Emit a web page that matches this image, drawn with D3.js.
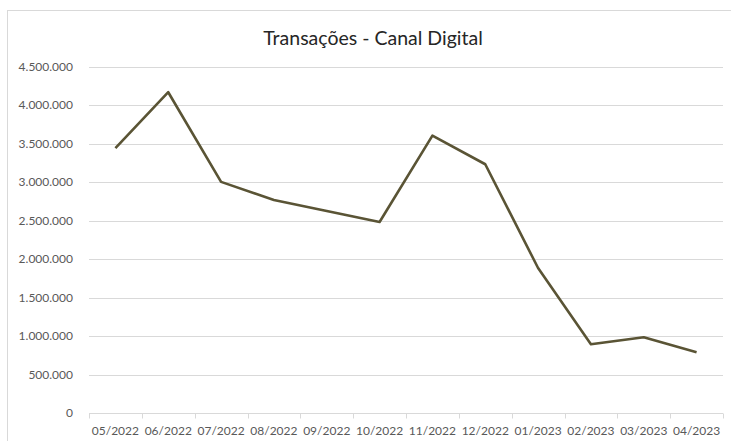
<!DOCTYPE html>
<html>
<head>
<meta charset="utf-8">
<script src="https://cdn.jsdelivr.net/npm/d3@7"></script>
<style>
  body { margin: 0; background: #fff; }
  svg { display: block; font-family: Lato, "Open Sans", sans-serif; }
</style>
</head>
<body>
<script>
// chart data
const months = ["05/2022", "06/2022", "07/2022", "08/2022", "09/2022", "10/2022",
                "11/2022", "12/2022", "01/2023", "02/2023", "03/2023", "04/2023"];
const transacoes = [3446000, 4172000, 3006000, 2770000, 2628000, 2484000,
                    3607000, 3235000, 1886000, 894000, 985000, 790000];
const yTicks = [0, 500000, 1000000, 1500000, 2000000, 2500000, 3000000, 3500000, 4000000, 4500000];
const title = "Transações - Canal Digital";

const width = 731, height = 441;
const margin = { left: 89, right: 8, top: 67, bottom: 28 };

const svg = d3.select("body").append("svg")
    .attr("width", width)
    .attr("height", height);

// outer frame (only left + top edges visible in the picture)
svg.append("rect")
    .attr("x", 7.5).attr("y", 10.5)
    .attr("width", width).attr("height", height)
    .attr("fill", "none")
    .attr("stroke", "#d9d9d9");

const x = d3.scaleBand()
    .domain(months)
    .range([margin.left, width - margin.right]);

const y = d3.scaleLinear()
    .domain([0, 4500000])
    .range([height - margin.bottom, margin.top]);

const fmt = d => d3.format(",")(d).replace(/,/g, ".");

// gridlines
svg.append("g")
    .selectAll("line")
    .data(yTicks.filter(d => d > 0))
    .join("line")
    .attr("x1", margin.left).attr("x2", width - margin.right)
    .attr("y1", d => Math.round(y(d)) + 0.5).attr("y2", d => Math.round(y(d)) + 0.5)
    .attr("stroke", "#d9d9d9");

// y labels
svg.append("g")
    .selectAll("text")
    .data(yTicks)
    .join("text")
    .attr("x", 73)
    .attr("y", d => y(d) + 4)
    .attr("text-anchor", "end")
    .style("font-size", "12px")
    .style("fill", "#595959")
    .text(fmt);

// x axis
const xAxis = svg.append("g")
    .attr("transform", `translate(0,${Math.round(y(0)) + 0.5})`);
xAxis.append("line")
    .attr("x1", margin.left).attr("x2", width - margin.right)
    .attr("stroke", "#d9d9d9");
const bounds = months.map(m => x(m)).concat([x(months[months.length - 1]) + x.bandwidth()]);
xAxis.selectAll("line.tick")
    .data(bounds)
    .join("line")
    .attr("class", "tick")
    .attr("x1", d => Math.round(d) + 0.5).attr("x2", d => Math.round(d) + 0.5)
    .attr("y1", 0).attr("y2", 5)
    .attr("stroke", "#d9d9d9");
xAxis.selectAll("text")
    .data(months)
    .join("text")
    .attr("x", d => x(d) + x.bandwidth() / 2)
    .attr("y", 21)
    .attr("text-anchor", "middle")
    .style("font-size", "12px")
    .style("fill", "#595959")
    .text(d => d);

// line
const line = d3.line()
    .x((d, i) => x(months[i]) + x.bandwidth() / 2)
    .y(d => y(d));

svg.append("path")
    .datum(transacoes)
    .attr("d", line)
    .attr("fill", "none")
    .attr("stroke", "#5a5435")
    .attr("stroke-width", 2.6)
    .attr("stroke-linejoin", "round");

// title
svg.append("text")
    .attr("x", 373)
    .attr("y", 45)
    .attr("text-anchor", "middle")
    .style("font-size", "19.5px")
    .style("fill", "#262626")
    .text(title);
</script>
</body>
</html>
